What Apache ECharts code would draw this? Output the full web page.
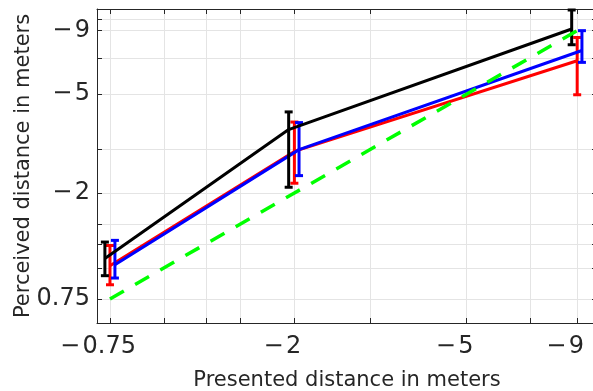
<!DOCTYPE html>
<html>
<head>
<meta charset="utf-8">
<script src="https://cdn.jsdelivr.net/npm/echarts@6/dist/echarts.min.js"></script>
<style>
  html, body { margin: 0; padding: 0; background: #fff; }
  #chart { width: 593px; height: 391px; }
</style>
</head>
<body>
<div id="chart"></div>
<script>
// tick positions (log-scaled axes)
const xTicks = [0.75, 1, 1.25, 1.5, 2, 3, 5, 7, 9];
const yTicks = [0.75, 1, 1.25, 1.5, 2, 3, 5, 7, 9, 10];
const xLabelValues = [0.75, 2, 5, 9];
const xLabelText = ["\u2212\u200a0.75", "\u2212\u200a2", "\u2212\u200a5", "\u2212\u200a9"];
const yLabelValues = [0.75, 2, 5, 9];
const yLabelText = ["0.75", "\u2212\u200a2", "\u2212\u200a5", "\u2212\u200a9"];

// identity (presented = perceived)
const identityX = [0.75, 2, 9];
const identityY = [0.75, 2, 9];

// black group
const blackX = [0.73, 1.94, 8.74];
const blackMean = [1.09, 3.60, 9.14];
const blackLow = [0.93, 2.11, 7.90];
const blackHigh = [1.27, 4.24, 11];

// red group
const redX = [0.75, 2, 9];
const redMean = [1.02, 2.94, 6.81];
const redLow = [0.855, 2.19, 4.97];
const redHigh = [1.23, 3.86, 8.45];

// blue group
const blueX = [0.77, 2.05, 9.23];
const blueMean = [1.03, 2.99, 7.49];
const blueLow = [0.91, 2.35, 6.71];
const blueHigh = [1.29, 3.84, 9.0];

const L = Math.log10;
const AXIS = "#262626";
const GRIDC = "#e4e4e4";
const FONT = "DejaVu Sans";

function pickLabel(v, vals, texts) {
  let best = 0;
  for (let i = 1; i < vals.length; i++) {
    if (Math.abs(L(vals[i]) - v) < Math.abs(L(vals[best]) - v)) best = i;
  }
  return texts[best];
}

function lineSeries(xs, ys, color, z) {
  return {
    type: "line",
    data: xs.map((x, i) => [L(x), L(ys[i])]),
    symbol: "none",
    lineStyle: { color, width: 3 },
    z,
    silent: true,
  };
}

function errSeries(xs, lo, hi, color, z) {
  return {
    type: "custom",
    data: xs.map((x, i) => [L(x), L(lo[i]), L(hi[i])]),
    z,
    silent: true,
    renderItem: (params, api) => {
      const a = api.coord([api.value(0), api.value(1)]);
      const b = api.coord([api.value(0), api.value(2)]);
      const top = Math.max(b[1], params.coordSys.y + 1);
      const w = 4;
      const st = { stroke: color, lineWidth: 3 };
      return {
        type: "group",
        children: [
          { type: "line", shape: { x1: a[0], y1: a[1], x2: a[0], y2: top }, style: st },
          { type: "line", shape: { x1: a[0] - w, y1: a[1], x2: a[0] + w, y2: a[1] }, style: st },
          { type: "line", shape: { x1: a[0] - w, y1: top, x2: a[0] + w, y2: top }, style: st },
        ],
      };
    },
  };
}

const chart = echarts.init(document.getElementById("chart"), null, { renderer: "canvas" });

const xBase = {
  type: "value",
  min: L(0.7),
  max: L(10),
  axisLine: { onZero: false, lineStyle: { color: AXIS, width: 1 } },
  axisTick: { inside: true, length: 5, customValues: xTicks.map(L), lineStyle: { color: AXIS } },
};
const yBase = {
  type: "value",
  min: L(0.6),
  max: L(11),
  axisLine: { onZero: false, lineStyle: { color: AXIS, width: 1 } },
  axisTick: { inside: true, length: 5, customValues: yTicks.map(L), lineStyle: { color: AXIS } },
};

chart.setOption({
  animation: false,
  backgroundColor: "#fff",
  grid: { left: 97, right: -4, top: 9, bottom: 68, outerBoundsMode: "none" },
  xAxis: [
    {
      ...xBase,
      position: "bottom",
      name: "Presented distance in meters",
      nameLocation: "middle",
      nameGap: 47,
      nameMoveOverlap: false,
      nameTextStyle: { fontFamily: FONT, fontSize: 21, color: AXIS },
      axisLabel: {
        customValues: xLabelValues.map(L),
        formatter: (v) => pickLabel(v, xLabelValues, xLabelText),
        fontFamily: FONT, fontSize: 24, color: AXIS,
        margin: 12,
        padding: [0, 24, 0, 0],
      },
      splitLine: { show: true, lineStyle: { color: GRIDC, width: 1 } },
    },
    {
      ...xBase,
      position: "top",
      axisLabel: { show: false },
      splitLine: { show: false },
    },
  ],
  yAxis: [
    {
      ...yBase,
      position: "left",
      name: "Perceived distance in meters",
      nameLocation: "middle",
      nameGap: 63,
      nameMoveOverlap: false,
      nameTextStyle: { fontFamily: FONT, fontSize: 21, color: AXIS },
      axisLabel: {
        customValues: yLabelValues.map(L),
        formatter: (v) => pickLabel(v, yLabelValues, yLabelText),
        fontFamily: FONT, fontSize: 24, color: AXIS,
        margin: 7,
      },
      splitLine: { show: true, lineStyle: { color: GRIDC, width: 1 } },
    },
    {
      ...yBase,
      position: "right",
      axisLabel: { show: false },
      splitLine: { show: false },
    },
  ],
  series: [
    errSeries(redX, redLow, redHigh, "#ff0000", 2),
    lineSeries(redX, redMean, "#ff0000", 2),
    errSeries(blueX, blueLow, blueHigh, "#0000ff", 3),
    lineSeries(blueX, blueMean, "#0000ff", 3),
    errSeries(blackX, blackLow, blackHigh, "#000000", 4),
    lineSeries(blackX, blackMean, "#000000", 4),
    {
      type: "line",
      data: identityX.map((x, i) => [L(x), L(identityY[i])]),
      symbol: "none",
      lineStyle: { color: "#00ff00", width: 3.5, type: [16, 13] },
      z: 5,
      silent: true,
    },
  ],
});
</script>
</body>
</html>
